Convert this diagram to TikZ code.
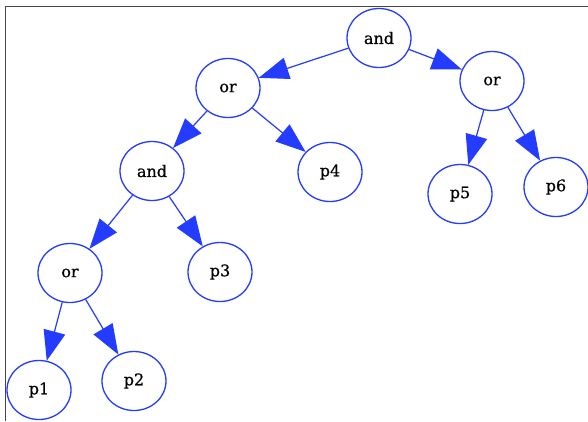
\documentclass[tikz,border=0pt]{standalone}
\usepackage{fontspec}
\newfontfamily\labelfont[FakeBold=0.6]{DejaVu Serif}
\usetikzlibrary{shapes.geometric,arrows.meta}
\definecolor{nodeblue}{RGB}{35,60,255}
\definecolor{framegray}{RGB}{70,70,70}
\begin{document}
\begin{tikzpicture}[x=1pt,y=-1pt,
  tnode/.style={ellipse,draw=nodeblue,line width=1.3pt,minimum width=64pt,minimum height=59pt,inner sep=0pt,
    font=\labelfont\fontsize{16}{19}\selectfont,text=black},
  tedge/.style={draw=nodeblue,line width=1.2pt,-{Triangle[length=30pt,width=22pt]},fill=nodeblue}]
\useasboundingbox (0,0) rectangle (588,421);
\fill[white] (0,0) rectangle (588,421);
\draw[framegray,line width=1pt] (5,421) -- (5,6) -- (588,6);
\node[tnode] (and1) at (379,38) {and};
\node[tnode] (or1) at (228,88) {or};
\node[tnode] (or2) at (492,81) {or};
\node[tnode] (and2) at (152,171) {and};
\node[tnode] (p4) at (330,172) {p4};
\node[tnode] (p5) at (460,194) {p5};
\node[tnode] (p6) at (556,187) {p6};
\node[tnode] (or3) at (70,273) {or};
\node[tnode] (p3) at (220,272) {p3};
\node[tnode] (p1) at (39,390) {p1};
\node[tnode] (p2) at (134,381) {p2};
\draw[tedge] (and1) -- (or1);
\draw[tedge] (and1) -- (or2);
\draw[tedge] (or1) -- (and2);
\draw[tedge] (or1) -- (p4);
\draw[tedge] (or2) -- (p5);
\draw[tedge] (or2) -- (p6);
\draw[tedge] (and2) -- (or3);
\draw[tedge] (and2) -- (p3);
\draw[tedge] (or3) -- (p1);
\draw[tedge] (or3) -- (p2);
\end{tikzpicture}
\end{document}
